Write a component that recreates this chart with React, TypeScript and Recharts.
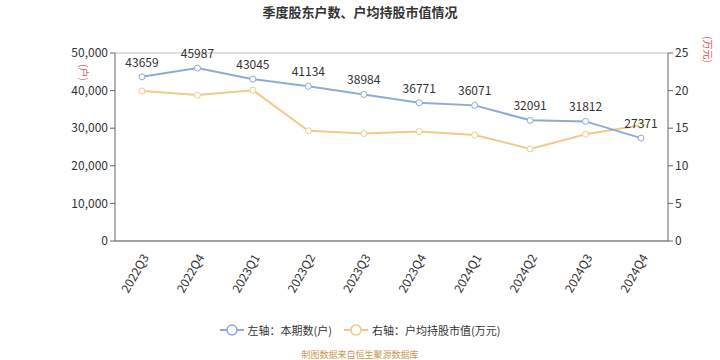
import { LineChart, Line, XAxis, YAxis, CartesianGrid, LabelList } from 'recharts';

const quarters = ['2022Q3', '2022Q4', '2023Q1', '2023Q2', '2023Q3', '2023Q4', '2024Q1', '2024Q2', '2024Q3', '2024Q4'];
const holders = [43659, 45987, 43045, 41134, 38984, 36771, 36071, 32091, 31812, 27371];
const avgValue = [19.95, 19.4, 20.05, 14.65, 14.3, 14.55, 14.1, 12.25, 14.2, 15.4];
const leftTicks = [0, 10000, 20000, 30000, 40000, 50000];
const rightTicks = [0, 5, 10, 15, 20, 25];

const BLUE = '#8eaad8';
const ORANGE = '#f3c98b';

const data = quarters.map((q, i) => ({ q, holders: holders[i], avg: avgValue[i] }));

function LegendItem({ color, text }: { color: string; text: string }) {
  return (
    <span style={{ display: 'inline-flex', alignItems: 'center', margin: '0 6px' }}>
      <svg width={24} height={14}>
        <line x1={0} y1={7} x2={24} y2={7} stroke={color} strokeWidth={2} />
        <circle cx={12} cy={7} r={5} fill="#fff" stroke={color} strokeWidth={1.5} />
      </svg>
      <span style={{ marginLeft: 4 }}>{text}</span>
    </span>
  );
}

export default function App() {
  return (
    <div style={{ position: 'absolute', left: 0, top: 0, width: 720, height: 360, background: '#fff', fontFamily: '"Noto Sans CJK SC", "Noto Sans", sans-serif' }}>
      <div style={{ position: 'absolute', top: 2, width: 720, textAlign: 'center', fontSize: 13, fontWeight: 'bold', color: '#333' }}>
        季度股东户数、户均持股市值情况
      </div>
      <LineChart
        width={720}
        height={360}
        data={data}
        margin={{ top: 53, right: 0, left: 0, bottom: 51 }}
        style={{ position: 'absolute', left: 0, top: 0 }}
      >
        <CartesianGrid vertical={false} stroke="#bbb" />
        <XAxis
          dataKey="q"
          padding={{ left: 27, right: 27 }}
          interval={0}
          height={68}
          tick={{ fontSize: 12, fill: '#333', angle: -60, textAnchor: 'end', dy: 4 } as any}
          tickLine={false}
          axisLine={{ stroke: '#666' }}
        />
        <YAxis
          yAxisId="left"
          width={115}
          domain={[0, 50000]}
          ticks={leftTicks}
          tickFormatter={(v: number) => v.toLocaleString('en-US')}
          tick={{ fontSize: 12, fill: '#333' }}
          axisLine={{ stroke: '#666' }}
          tickLine={{ stroke: '#666' }}
          tickSize={5}
        />
        <YAxis
          yAxisId="right"
          orientation="right"
          width={52}
          domain={[0, 25]}
          ticks={rightTicks}
          tick={{ fontSize: 12, fill: '#333' }}
          axisLine={{ stroke: '#666' }}
          tickLine={{ stroke: '#666' }}
          tickSize={5}
        />
        <Line
          yAxisId="right"
          dataKey="avg"
          stroke={ORANGE}
          strokeWidth={2}
          dot={{ r: 3, fill: '#fff', stroke: ORANGE, strokeWidth: 1 }}
          isAnimationActive={false}
        />
        <Line
          yAxisId="left"
          dataKey="holders"
          stroke={BLUE}
          strokeWidth={2}
          dot={{ r: 3, fill: '#fff', stroke: BLUE, strokeWidth: 1 }}
          isAnimationActive={false}
        >
          <LabelList dataKey="holders" position="top" offset={10} style={{ fontSize: 12, fill: '#333' }} />
        </Line>
      </LineChart>
      <svg style={{ position: 'absolute', left: 0, top: 0 }} width={720} height={360}>
        <text transform="translate(80,64) rotate(90)" fontSize={10} fill="#e05a5a">(户)</text>
        <text transform="translate(704,36) rotate(90)" fontSize={10} fill="#e05a5a">(万元)</text>
      </svg>
      <div style={{ position: 'absolute', top: 322, width: 720, textAlign: 'center', fontSize: 11, color: '#333' }}>
        <LegendItem color={BLUE} text="左轴：本期数(户)" />
        <LegendItem color={ORANGE} text="右轴：户均持股市值(万元)" />
      </div>
      <div style={{ position: 'absolute', top: 348, width: 720, textAlign: 'center', fontSize: 9, color: '#c79a4f' }}>
        制图数据来自恒生聚源数据库
      </div>
    </div>
  );
}
